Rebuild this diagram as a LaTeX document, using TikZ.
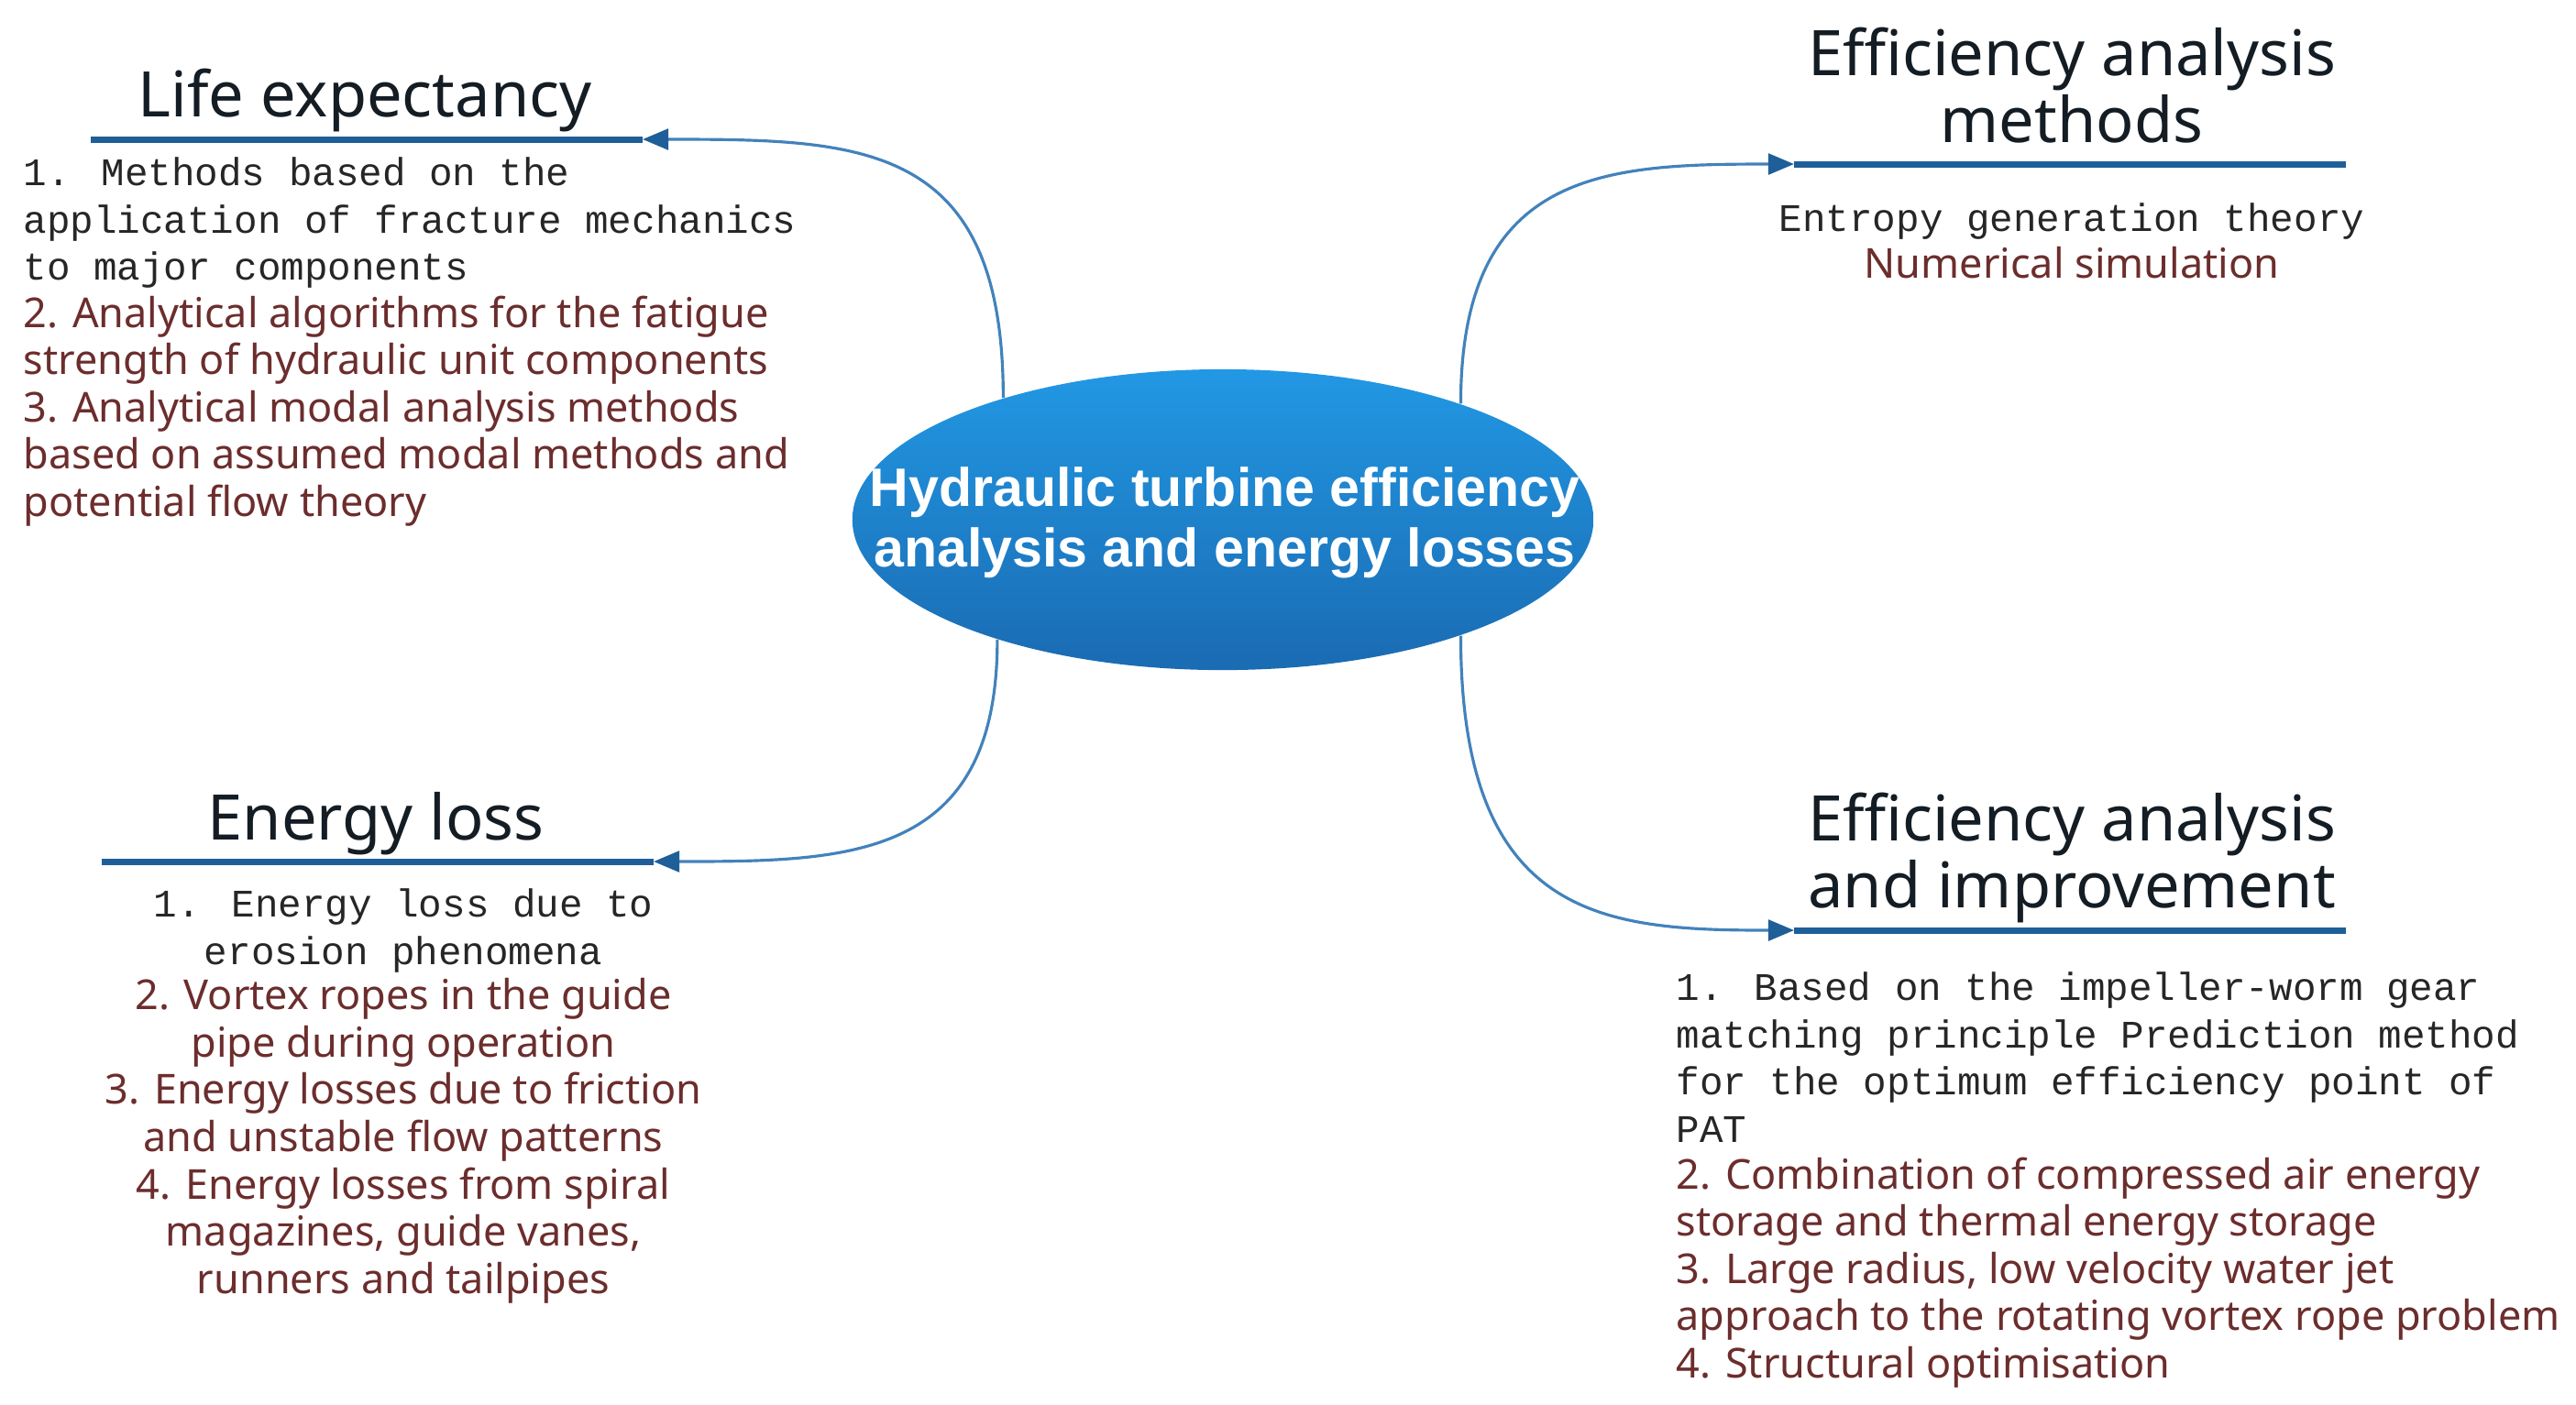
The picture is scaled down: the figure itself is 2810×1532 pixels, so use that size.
\documentclass[tikz,border=0pt]{standalone}
\usepackage{fontspec}
\newfontfamily\headfont{Noto Sans}
\newfontfamily\codefont{Liberation Mono}
\newfontfamily\hubfont{Liberation Sans}
\usetikzlibrary{shapes.geometric,arrows.meta}
\definecolor{hubtop}{HTML}{2298E4}
\definecolor{hubbot}{HTML}{1A6BB2}
\definecolor{barblue}{HTML}{1F5F99}
\definecolor{linkblue}{HTML}{4282BB}
\definecolor{itemred}{HTML}{6C2D2D}
\definecolor{headblack}{HTML}{141C24}
\definecolor{codegray}{HTML}{262626}
\tikzset{
  hub/.style={ellipse, minimum width=8.08cm, minimum height=3.28cm,
    top color=hubtop, bottom color=hubbot, inner sep=0pt},
  hubtext/.style={text=white, align=center,
    font=\hubfont\bfseries\fontsize{16.8pt}{18.8pt}\selectfont},
  head/.style={text=headblack, align=center, inner sep=0pt,
    font=\headfont\fontsize{19.5pt}{20.8pt}\selectfont},
  codetext/.style={text=codegray, inner sep=0pt,
    font=\codefont\fontsize{12.1pt}{14.65pt}\selectfont},
  redtext/.style={text=itemred, inner sep=0pt,
    font=\headfont\fontsize{12.8pt}{14.65pt}\selectfont},
  bar/.style={barblue, line width=2pt},
  link/.style={linkblue, line width=0.9pt,
    -{Triangle[length=8pt, width=6.5pt, color=barblue]}}
}
\begin{document}
\begin{tikzpicture}[x=0.01cm, y=-0.01cm]
  \useasboundingbox (0,0) rectangle (2810,1532);
  % Central ellipse
  \node[hub] (hub) at (1334,567) {};
  \node[hubtext] (hubtxt) at (1336,570)
    {Hydraulic turbine efficiency\\analysis and energy losses};
  % Underlines of the four branches
  \coordinate (lifeL) at (99,152);   \coordinate (lifeR) at (701,152);
  \coordinate (methL) at (1957,179); \coordinate (methR) at (2559,179);
  \coordinate (lossL) at (111,940);  \coordinate (lossR) at (713,940);
  \coordinate (imprL) at (1957,1015);\coordinate (imprR) at (2559,1015);
  \draw[bar] (lifeL) -- (lifeR);
  \draw[bar] (methL) -- (methR);
  \draw[bar] (lossL) -- (lossR);
  \draw[bar] (imprL) -- (imprR);
  % Connectors from the ellipse
  \draw[link] (hub.151) .. controls +(0,-280) and +(240,0) .. (lifeR);
  \draw[link] (hub.26) .. controls +(0,-256) and +(-205,0) .. (methL);
  \draw[link] (hub.208) .. controls +(0,240) and +(215,0) .. (lossR);
  \draw[link] (hub.334) .. controls +(0,310) and +(-207,0) .. (imprL);
  % Life expectancy
  \node[head, anchor=base] (lifehead) at (398,127) {Life expectancy};
  \node[codetext, align=left, anchor=north west] (lifecode) at (25,171)
    {1. Methods based on the\\application of fracture mechanics\\to major components};
  \node[redtext, align=left, anchor=north west] (lifered) at (25,322)
    {2. Analytical algorithms for the fatigue\\strength of hydraulic unit components\\
     3. Analytical modal analysis methods\\based on assumed modal methods and\\
     potential flow theory};
  % Efficiency analysis methods
  \node[head, anchor=north] (methhead) at (2260,29) {Efficiency analysis\\methods};
  \node[codetext, align=center, anchor=north] (methcode) at (2260,221)
    {Entropy generation theory};
  \node[redtext, align=center, anchor=north] (methred) at (2260,269)
    {Numerical simulation};
  % Energy loss
  \node[head, anchor=base] (losshead) at (410,916) {Energy loss};
  \node[codetext, align=center, anchor=north] (losscode) at (440,969)
    {1. Energy loss due to\\erosion phenomena};
  \node[redtext, align=center, anchor=north] (lossred) at (440,1067)
    {2. Vortex ropes in the guide\\pipe during operation\\
     3. Energy losses due to friction\\and unstable flow patterns\\
     4. Energy losses from spiral\\magazines, guide vanes,\\runners and tailpipes};
  % Efficiency analysis and improvement
  \node[head, anchor=north] (imprhead) at (2260,864)
    {Efficiency analysis\\and improvement};
  \node[codetext, align=left, anchor=north west] (imprcode) at (1828,1060)
    {1. Based on the impeller-worm gear\\matching principle Prediction method\\
     for the optimum efficiency point of\\PAT};
  \node[redtext, align=left, anchor=north west] (imprred) at (1828,1262)
    {2. Combination of compressed air energy\\storage and thermal energy storage\\
     3. Large radius, low velocity water jet\\approach to the rotating vortex rope problem\\
     4. Structural optimisation};
\end{tikzpicture}
\end{document}
